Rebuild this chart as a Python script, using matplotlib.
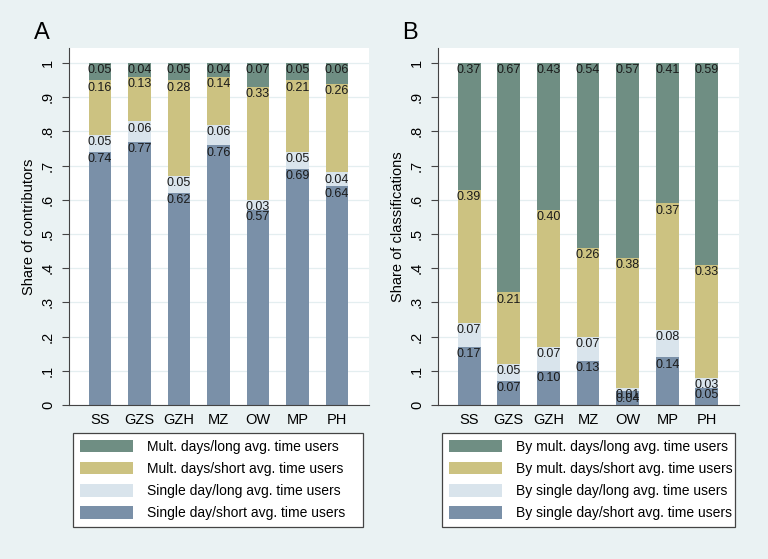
import numpy as np
import matplotlib.pyplot as plt
from matplotlib.patches import Patch

plt.rcParams['font.family'] = ['Liberation Sans', 'DejaVu Sans']

sites = ["SS", "GZS", "GZH", "MZ", "OW", "MP", "PH"]

# panel A: share of contributors (bottom to top)
a_single_short = [0.74, 0.77, 0.62, 0.76, 0.57, 0.69, 0.64]
a_single_long = [0.05, 0.06, 0.05, 0.06, 0.03, 0.05, 0.04]
a_mult_short = [0.16, 0.13, 0.28, 0.14, 0.33, 0.21, 0.26]
a_mult_long = [0.05, 0.04, 0.05, 0.04, 0.07, 0.05, 0.06]

# panel B: share of classifications (bottom to top)
b_single_short = [0.17, 0.07, 0.10, 0.13, 0.04, 0.14, 0.05]
b_single_long = [0.07, 0.05, 0.07, 0.07, 0.01, 0.08, 0.03]
b_mult_short = [0.39, 0.21, 0.40, 0.26, 0.38, 0.37, 0.33]
b_mult_long = [0.37, 0.67, 0.43, 0.54, 0.57, 0.41, 0.59]

labels_a = ["Mult. days/long avg. time users", "Mult. days/short avg. time users",
            "Single day/long avg. time users", "Single day/short avg. time users"]
labels_b = ["By mult. days/long avg. time users", "By mult. days/short avg. time users",
            "By single day/long avg. time users", "By single day/short avg. time users"]

# colours bottom to top
colors = ["#7a90a8", "#d9e4ec", "#ccc281", "#6f8e83"]
bg = "#eaf2f3"


def draw_panel(fig, rect, series, ylabel, letter, leg_labels, leg_rect):
    ax = fig.add_axes(rect)
    x = np.arange(len(sites))
    bottom = np.zeros(len(sites))
    for vals, c in zip(series, colors):
        vals = np.array(vals)
        ax.bar(x, vals, width=0.58, bottom=bottom, color=c, zorder=2)
        for xi, b, v in zip(x, bottom, vals):
            ax.annotate("{:.2f}".format(v), (xi, b + v), xytext=(0, -1),
                        textcoords="offset points", ha="center", va="top",
                        fontsize=9, color="#1a1a1a", zorder=3)
        bottom += vals

    ax.set_xlim(-0.785, 6.81)
    ax.set_ylim(0, 1.044)
    ax.set_yticks(np.arange(0, 1.01, 0.1))
    ax.set_yticklabels(["0", ".1", ".2", ".3", ".4", ".5", ".6", ".7", ".8", ".9", "1"],
                       rotation=90, va="center")
    ax.set_xticks(x)
    ax.set_xticklabels(sites)
    ax.tick_params(axis="x", length=0, labelsize=10.5, pad=6)
    ax.tick_params(axis="y", length=5, labelsize=10.5, pad=5, color="#444444")
    ax.grid(axis="y", color="#e4eef0", linewidth=0.9, zorder=0)
    ax.set_axisbelow(True)
    for s in ["top", "right"]:
        ax.spines[s].set_visible(False)
    for s in ["left", "bottom"]:
        ax.spines[s].set_color("#444444")
    ax.set_ylabel(ylabel, fontsize=10.5, labelpad=4)
    fig.text(rect[0] - 0.036, 1 - 39 / 559, letter, fontsize=17, ha="center", va="baseline")

    handles = [Patch(facecolor=c, edgecolor="none") for c in colors[::-1]]
    leg = ax.legend(handles, leg_labels, loc="upper left", bbox_to_anchor=leg_rect,
                    bbox_transform=fig.transFigure, mode="expand", fancybox=False,
                    borderaxespad=0, edgecolor="#444444", fontsize=10,
                    handlelength=3.8, handleheight=1.0, labelspacing=0.58,
                    borderpad=0.5, handletextpad=1.0, framealpha=1)
    leg.get_frame().set_linewidth(0.9)
    return ax


fig = plt.figure(figsize=(7.68, 5.59), dpi=100, facecolor=bg)
draw_panel(fig, [69 / 768, 1 - 405 / 559, 300 / 768, 357 / 559],
           [a_single_short, a_single_long, a_mult_short, a_mult_long],
           "Share of contributors", "A", labels_a,
           (73 / 768, 1 - 433 / 559, 290 / 768, 0.0))
draw_panel(fig, [438 / 768, 1 - 405 / 559, 301 / 768, 357 / 559],
           [b_single_short, b_single_long, b_mult_short, b_mult_long],
           "Share of classifications", "B", labels_b,
           (442 / 768, 1 - 433 / 559, 293 / 768, 0.0))

plt.savefig("out.png", dpi=100, facecolor=bg)
